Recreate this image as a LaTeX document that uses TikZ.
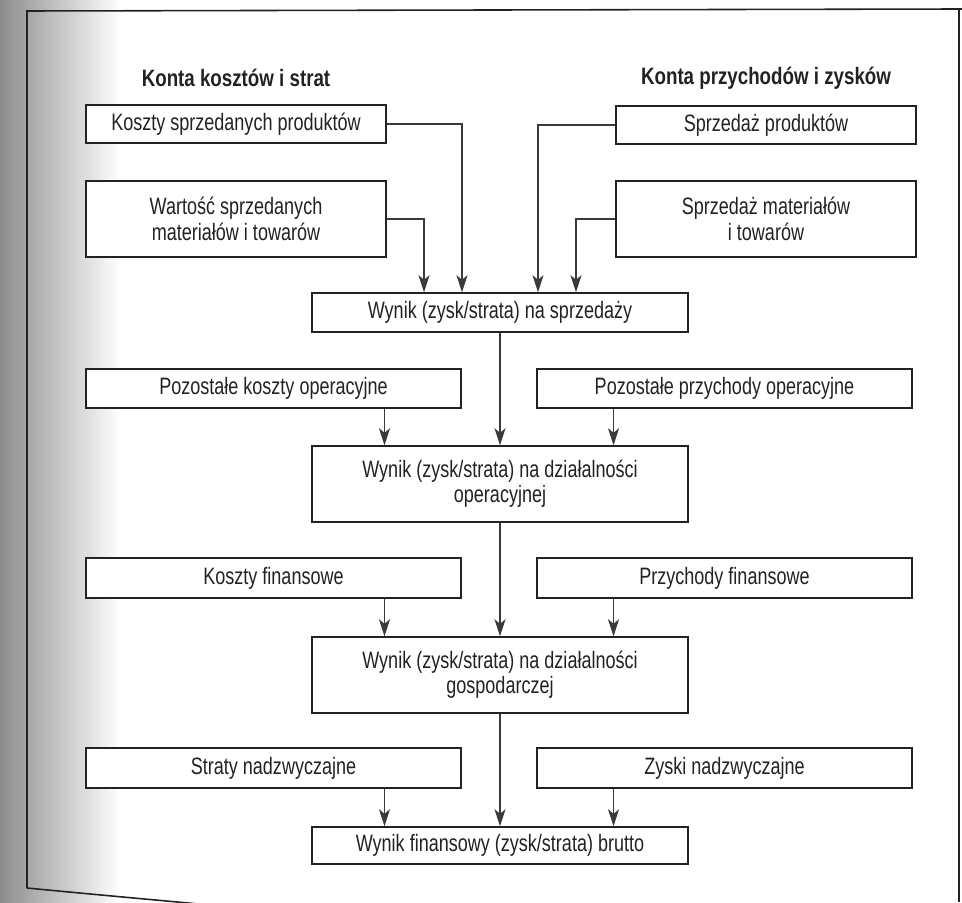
\documentclass[tikz,border=0pt]{standalone}
\usepackage{fontspec}
\setmainfont{Liberation Sans}[FakeStretch=0.76]
\newfontfamily\headfont{Liberation Sans}[FakeStretch=0.79]
\usetikzlibrary{arrows.meta}
\definecolor{inkgray}{HTML}{222222}
\definecolor{arrowgray}{HTML}{3A3A3A}

\begin{document}
\begin{tikzpicture}[x=0.02cm, y=-0.02cm,
    box/.style={draw=inkgray, line width=0.85pt, fill=white, align=center, inner sep=0pt,
        minimum height=0.78cm, text=inkgray, font=\fontsize{13.5}{14.4}\selectfont},
    sidebox/.style={box, minimum width=6cm},
    flowbox/.style={box, minimum width=7.52cm},
    lowbox/.style={box, minimum width=7.5cm},
    head/.style={text=inkgray, font=\headfont\bfseries\fontsize{13.5}{14.4}\selectfont},
    arr/.style={draw=arrowgray, line width=0.6pt, -{Stealth[length=3.4mm, width=2.2mm, inset=0.9mm]}}
]

    % Page area and scanned shading on the left
    \useasboundingbox (0,0) rectangle (962,902);
    \clip (0,0) rectangle (962,902);
    \fill[white] (0,0) rectangle (962,902);
    \shade[left color=black!45, right color=white] (0,0) rectangle (120,902);

    % Draw the frame
    \draw[inkgray, line width=0.9pt] (27,888) -- (27,11) -- (962,9);
    \draw[inkgray, line width=0.9pt] (959,10) -- (959,902);
    \draw[inkgray, line width=0.9pt] (27,888) .. controls (90,894) .. (210,905);

    % Column headings
    \node[head] (hkoszt) at (236,78) {Konta kosztów i strat};
    \node[head] (hprzych) at (766,78) {Konta przychodów i zysków};

    % Accounts feeding the sales result
    \node[sidebox, minimum height=0.76cm] (ksp) at (236,124) {Koszty sprzedanych produktów};
    \node[sidebox, minimum height=0.76cm] (spp) at (766,125) {Sprzedaż produktów};
    \node[sidebox, minimum height=1.52cm] (wsm) at (236,219) {Wartość sprzedanych\\materiałów i towarów};
    \node[sidebox, minimum height=1.52cm] (smt) at (766,219) {Sprzedaż materiałów\\i towarów};

    % Results, top to bottom
    \node[flowbox] (wsp) at (500,312.5) {Wynik (zysk/strata) na sprzedaży};
    \node[flowbox, minimum height=1.52cm] (wop) at (500,484) {Wynik (zysk/strata) na działalności\\operacyjnej};
    \node[flowbox, minimum height=1.52cm] (wgo) at (500,675) {Wynik (zysk/strata) na działalności\\gospodarczej};
    \node[flowbox, minimum height=0.74cm] (wbr) at (500,845.5) {Wynik finansowy (zysk/strata) brutto};

    % Side accounts between the results
    \node[lowbox] (pko) at (273.5,388.5) {Pozostałe koszty operacyjne};
    \node[lowbox] (ppo) at (724.5,388.5) {Pozostałe przychody operacyjne};
    \node[lowbox, minimum height=0.8cm] (kfi) at (273.5,578) {Koszty finansowe};
    \node[lowbox, minimum height=0.8cm] (pfi) at (724.5,578) {Przychody finansowe};
    \node[lowbox, minimum height=0.8cm] (snz) at (273.5,768) {Straty nadzwyczajne};
    \node[lowbox, minimum height=0.8cm] (znz) at (724.5,768) {Zyski nadzwyczajne};

    % Arrows into the sales result
    \draw[arr] (ksp.east) -| ([xshift=-0.76cm]wsp.north);
    \draw[arr] (wsm.east) -| ([xshift=-1.52cm]wsp.north);
    \draw[arr] (spp.west) -| ([xshift=0.76cm]wsp.north);
    \draw[arr] (smt.west) -| ([xshift=1.52cm]wsp.north);

    % Main chain of results
    \foreach \a/\b in {wsp/wop, wop/wgo, wgo/wbr}
        \draw[arr] (\a.south) -- (\b.north);

    % Side accounts down into the results
    \foreach \src/\dst/\dx in {pko/wop/2.22cm, ppo/wop/-2.22cm, kfi/wgo/2.22cm,
                               pfi/wgo/-2.22cm, snz/wbr/2.22cm, znz/wbr/-2.22cm} {
        \path ([xshift=\dx]\src.south) coordinate (\src-out);
        \draw[arr] (\src-out) -- (\src-out |- \dst.north);
    }

\end{tikzpicture}
\end{document}
